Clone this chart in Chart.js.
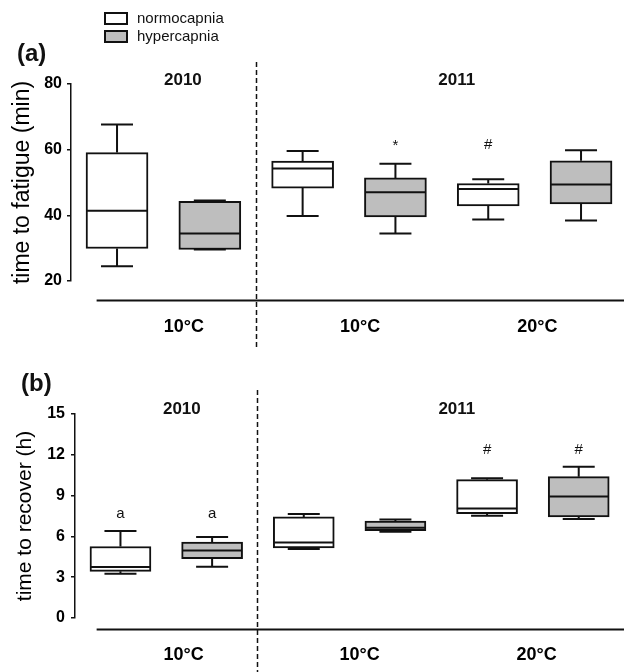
<!DOCTYPE html>
<html><head><meta charset="utf-8">
<script src="https://cdn.jsdelivr.net/npm/chart.js@4/dist/chart.umd.min.js"></script>
<style>
html,body{margin:0;padding:0;background:#fff;}
#wrap{position:relative;width:624px;height:672px;overflow:hidden;}
.pane{position:absolute;left:0;width:624px;}
</style></head><body>
<div id="wrap">
  <div class="pane" style="top:0;height:350px"><canvas id="ca"></canvas></div>
  <div class="pane" style="top:350px;height:322px"><canvas id="cb"></canvas></div>
</div>
<script>
// ---------- data ----------
const seriesNames = ['normocapnia', 'hypercapnia'];
const tempLabels = ['10°C', '10°C', '20°C'];
const yearLabels = ['2010', '2011'];
// five-number summaries per group: [min, q1, median, q3, max]
const fatigueNormo = [[24.5, 29.9, 41.4, 59.1, 67.7], [39.8, 48.3, 54.3, 56.5, 59.6], [38.7, 42.9, 48.0, 49.7, 51.0]];
const fatigueHyper = [[29.6, 29.6, 34.5, 44.3, 44.5], [34.5, 39.5, 47.0, 51.4, 55.7], [38.4, 43.5, 49.4, 56.6, 59.8]];
const recoverNormo = [[3.26, 3.43, 3.75, 5.26, 6.40], [5.07, 5.15, 5.56, 7.43, 7.65], [7.52, 7.67, 8.06, 10.17, 10.27]];
const recoverHyper = [[3.77, 4.36, 4.97, 5.59, 5.96], [6.35, 6.42, 6.64, 7.13, 7.25], [7.28, 7.43, 8.94, 10.39, 11.13]];
const fatigueMarksNormo = ['', '', '#'];
const fatigueMarksHyper = ['', '*', ''];
const recoverMarksNormo = ['a', '', '#'];
const recoverMarksHyper = ['a', '', '#'];
const fatigueTicks = [20, 40, 60, 80];
const recoverTicks = [0, 3, 6, 9, 12, 15];

Chart.defaults.font.family = "'Liberation Sans', Arial, Helvetica, sans-serif";
Chart.defaults.color = '#000';

const INK = '#111';
const GRAY = '#bebebe';

function makeDatasets(normo, hyper, marksN, marksH, thick) {
  const mk = (name, stats, marks, s, fill) => ({
    label: name,
    data: stats.map((b, i) => ({ x: 2 * i + s, y: [b[1], b[3]] })),
    stats: stats,
    marks: marks,
    backgroundColor: fill,
    borderColor: INK,
    borderWidth: 2,
    borderSkipped: false,
    barThickness: thick,
    grouped: false
  });
  return [mk(seriesNames[0], normo, marksN, 0, '#ffffff'), mk(seriesNames[1], hyper, marksH, 1, GRAY)];
}

const decor = {
  id: 'decor',
  afterDatasetsDraw(chart, args, o) {
    const ctx = chart.ctx, xs = chart.scales.x, ys = chart.scales.y;
    const py = v => ys.getPixelForValue(v);
    ctx.save();
    ctx.strokeStyle = INK;
    ctx.lineWidth = 2;
    ctx.setLineDash([]);
    const ds0 = chart.data.datasets;
    // box extras: medians, whiskers, caps
    ds0.forEach((ds, di) => {
      const meta = chart.getDatasetMeta(di);
      meta.data.forEach((el, i) => {
        const s = ds.stats[i];
        const cx = el.x, hw = el.width / 2;
        ctx.beginPath();
        ctx.moveTo(cx - hw + 1, py(s[2])); ctx.lineTo(cx + hw - 1, py(s[2]));
        if (s[4] > s[3]) { ctx.moveTo(cx, py(s[3])); ctx.lineTo(cx, py(s[4])); }
        ctx.moveTo(cx - o.cap, py(s[4])); ctx.lineTo(cx + o.cap, py(s[4]));
        if (s[0] < s[1]) { ctx.moveTo(cx, py(s[1])); ctx.lineTo(cx, py(s[0])); }
        ctx.moveTo(cx - o.cap, py(s[0])); ctx.lineTo(cx + o.cap, py(s[0]));
        ctx.stroke();
      });
    });
    // significance marks above each pair
    ctx.fillStyle = INK;
    ctx.font = "15px 'Liberation Sans', Arial, sans-serif";
    ctx.textAlign = 'center';
    ctx.textBaseline = 'alphabetic';
    ds0.forEach((ds, di) => {
      const meta = chart.getDatasetMeta(di);
      meta.data.forEach((el, i) => {
        const m = ds.marks[i];
        if (!m) return;
        const pairMax = Math.max(...ds0.map(d => d.stats[i][4]));
        ctx.fillText(m, el.x, py(pairMax) - o.markOffset);
      });
    });
    // horizontal baseline under the plot
    ctx.beginPath();
    ctx.lineWidth = 2;
    ctx.moveTo(xs.getPixelForValue(o.baseStart), o.baseY);
    ctx.lineTo(chart.width, o.baseY);
    ctx.stroke();
    // dashed separator between years
    ctx.beginPath();
    ctx.lineWidth = 1.5;
    ctx.setLineDash([5, 3]);
    const dx = Math.round(xs.getPixelForValue(o.sepAt)) + 0.5;
    ctx.moveTo(dx, o.sepTop);
    ctx.lineTo(dx, chart.height);
    ctx.stroke();
    ctx.setLineDash([]);
    // year headers
    ctx.font = "bold 17px 'Liberation Sans', Arial, sans-serif";
    ctx.textBaseline = 'middle';
    yearLabels.forEach((t, k) => ctx.fillText(t, xs.getPixelForValue(o.yearAt[k]), o.yearY));
    // panel label
    ctx.textAlign = 'left';
    ctx.font = "bold 24px 'Liberation Sans', Arial, sans-serif";
    ctx.fillText(o.panel, o.panelX, o.panelY);
    // figure legend
    if (o.legend) {
      ctx.font = "15px 'Liberation Sans', Arial, sans-serif";
      ds0.forEach((ds, di) => {
        const y = 13 + di * 18;
        ctx.fillStyle = ds.backgroundColor;
        ctx.fillRect(105, y, 22, 11);
        ctx.strokeStyle = INK;
        ctx.lineWidth = 2;
        ctx.strokeRect(105, y, 22, 11);
        ctx.fillStyle = INK;
        ctx.fillText(ds.label, 137, y + 6);
      });
    }
    ctx.restore();
  }
};

function makeChart(id, cfg) {
  return new Chart(document.getElementById(id), {
    type: 'bar',
    data: { datasets: makeDatasets(cfg.normo, cfg.hyper, cfg.marksN, cfg.marksH, cfg.thick) },
    options: {
      responsive: true,
      maintainAspectRatio: false,
      devicePixelRatio: 1,
      animation: false,
      layout: { padding: { top: cfg.padTop, left: 0, right: 0, bottom: 0 } },
      plugins: {
        legend: { display: false },
        tooltip: { enabled: false },
        decor: cfg.decor
      },
      scales: {
        x: {
          type: 'linear',
          offset: false,
          min: cfg.xMin, max: cfg.xMax,
          afterBuildTicks: s => { s.ticks = cfg.tempAt.map(v => ({ value: v })); },
          ticks: {
            callback: (v, i) => tempLabels[i],
            font: { size: 18, weight: 'bold' },
            color: '#000',
            padding: cfg.xPad,
            autoSkip: false,
            maxRotation: 0
          },
          grid: { display: false },
          border: { display: false },
          afterFit: s => { s.height = cfg.xHeight; }
        },
        y: {
          min: cfg.yMin, max: cfg.yMax,
          afterBuildTicks: s => { s.ticks = cfg.yTicks.map(v => ({ value: v })); },
          ticks: { font: { size: 16, weight: 'bold' }, color: '#000', padding: cfg.yPad },
          grid: { drawOnChartArea: false, drawTicks: true, tickLength: 4, color: INK, lineWidth: 1.5 },
          border: { display: true, color: INK, width: 1.5 },
          title: { display: true, text: cfg.yTitle, font: { size: cfg.titleSize }, color: '#000', padding: { top: cfg.titlePad, bottom: 0 } },
          afterFit: s => { s.width = cfg.yWidth; }
        }
      }
    },
    plugins: [decor]
  });
}

makeChart('ca', {
  normo: fatigueNormo, hyper: fatigueHyper, marksN: fatigueMarksNormo, marksH: fatigueMarksHyper,
  thick: 62, padTop: 84, xMin: -0.496, xMax: 5.463, tempAt: [0.72, 2.62, 4.53], xPad: 27, xHeight: 69,
  yMin: 20, yMax: 80, yTicks: fatigueTicks, yPad: 5, yTitle: 'time to fatigue (min)', titleSize: 23, titlePad: 9, yWidth: 71,
  decor: { cap: 16, markOffset: 1, baseStart: -0.22, baseY: 300.5, sepAt: 1.5, sepTop: 62,
           yearAt: [0.71, 3.66], yearY: 80, panel: '(a)', panelX: 17, panelY: 54, legend: true }
});

makeChart('cb', {
  normo: recoverNormo, hyper: recoverHyper, marksN: recoverMarksNormo, marksH: recoverMarksHyper,
  thick: 61, padTop: 64, xMin: -0.496, xMax: 5.494, tempAt: [0.69, 2.61, 4.54], xPad: 18, xHeight: 54,
  yMin: 0, yMax: 15, yTicks: recoverTicks, yPad: 6, yTitle: 'time to recover (h)', titleSize: 21, titlePad: 13, yWidth: 75,
  decor: { cap: 16, markOffset: 13, baseStart: -0.26, baseY: 279.5, sepAt: 1.49, sepTop: 40,
           yearAt: [0.67, 3.67], yearY: 59, panel: '(b)', panelX: 21, panelY: 34, legend: false }
});
</script>
</body></html>
